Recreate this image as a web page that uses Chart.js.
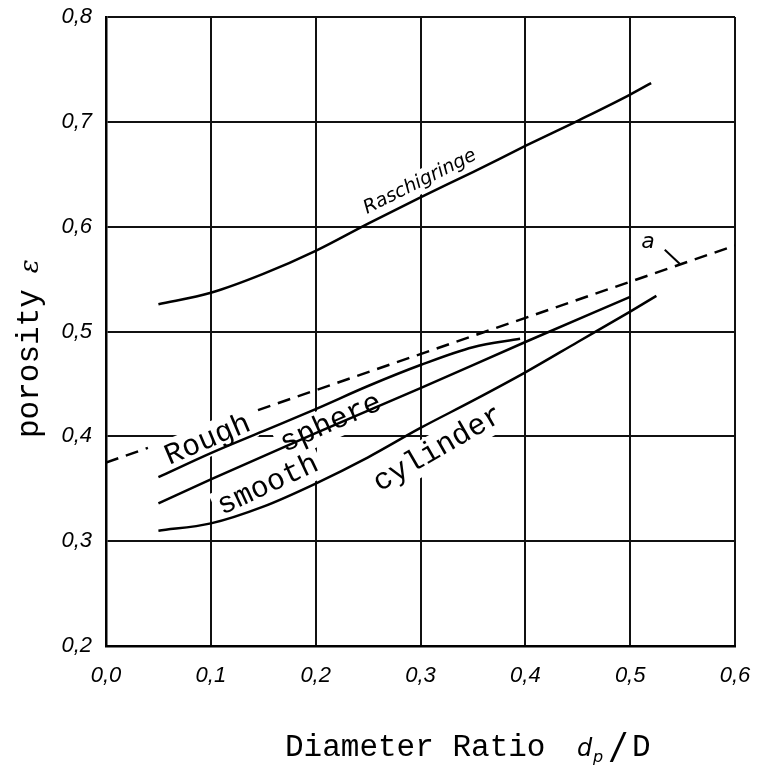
<!DOCTYPE html>
<html><head><meta charset="utf-8">
<script src="https://cdn.jsdelivr.net/npm/chart.js@4.4.0/dist/chart.umd.min.js"></script>
<style>html,body{margin:0;padding:0;background:#fff;} canvas{display:block;}</style>
</head><body>
<canvas id="c" width="758" height="769"></canvas>
<script>
// ---- data ----
const xTickLabels = ['0,0','0,1','0,2','0,3','0,4','0,5','0,6'];
const yTickLabels = ['0,2','0,3','0,4','0,5','0,6','0,7','0,8'];

const raschigX = [0.05, 0.10, 0.15, 0.20, 0.25, 0.30, 0.35, 0.40, 0.45, 0.50, 0.52];
const raschigY = [0.526, 0.537, 0.555, 0.577, 0.603, 0.628, 0.652, 0.677, 0.701, 0.726, 0.737];

const roughX = [0.05, 0.10, 0.15, 0.20, 0.25, 0.30, 0.35, 0.395];
const roughY = [0.361, 0.384, 0.405, 0.426, 0.448, 0.468, 0.485, 0.493];

const smoothX = [0.05, 0.10, 0.20, 0.30, 0.40, 0.50];
const smoothY = [0.336, 0.359, 0.403, 0.446, 0.490, 0.533];

const cylX = [0.05, 0.10, 0.15, 0.20, 0.25, 0.30, 0.35, 0.40, 0.45, 0.50, 0.525];
const cylY = [0.310, 0.317, 0.333, 0.355, 0.380, 0.408, 0.434, 0.461, 0.490, 0.519, 0.534];

// dashed line "a" (interrupted where the word "Rough" is written)
const aX = [0.0, 0.04, 0.09, 0.145, 0.6];
const aY = [0.375, 0.389, null, 0.425, 0.582];

// leader line from label "a" to the dashed line
const leaderX = [0.533, 0.548];
const leaderY = [0.578, 0.564];

// in-plot annotations (text, anchor in data units)
const annoText = ['Raschigringe', 'Rough', 'sphere', 'smooth', 'cylinder', 'a'];
const annoX    = [0.2995, 0.097, 0.2146, 0.1545, 0.3167, 0.517];
const annoY    = [0.6426, 0.3965, 0.4127, 0.3536, 0.388, 0.585];

// ---- styles ----
const annoStyle = [
  {angle:-26.5, font:'italic 19px "DejaVu Sans"', bg:true},
  {angle:-23, font:'30px "Liberation Mono"', bg:true},
  {angle:-24, font:'30px "Liberation Mono"', bg:true},
  {angle:-25, font:'30px "Liberation Mono"', bg:true},
  {angle:-30, font:'30px "Liberation Mono"', bg:true},
  {angle:0, font:'italic 22px "DejaVu Sans"', bg:false}
];

const pts = (xs, ys) => xs.map((x, i) => ({x: x, y: ys[i]}));
const solid = {borderColor:'#000', borderWidth:2.5, pointRadius:0, fill:false, cubicInterpolationMode:'monotone'};

const whiteBg = {
  id:'whiteBg',
  beforeDraw(chart){
    const c = chart.ctx; c.save(); c.fillStyle = '#fff';
    c.fillRect(0,0,chart.width,chart.height); c.restore();
  }
};

const annotations = {
  id:'annotations',
  beforeDatasetsDraw(chart){
    const c = chart.ctx, xs = chart.scales.x, ys = chart.scales.y;
    annoText.forEach((t, i) => {
      const st = annoStyle[i];
      if (!st.bg) return;
      c.save();
      c.font = st.font;
      const w = c.measureText(t).width;
      c.translate(xs.getPixelForValue(annoX[i]), ys.getPixelForValue(annoY[i]));
      c.rotate(st.angle * Math.PI / 180);
      c.fillStyle = '#fff';
      const h = parseFloat(st.font.match(/(\d+)px/)[1]);
      c.fillRect(-w/2 - 4, -h*0.45 - 3, w + 8, h*0.9 + 6);
      c.restore();
    });
  },
  afterDatasetsDraw(chart){
    const c = chart.ctx, xs = chart.scales.x, ys = chart.scales.y;
    annoText.forEach((t, i) => {
      const st = annoStyle[i];
      c.save();
      c.font = st.font;
      c.fillStyle = '#000';
      c.textAlign = 'center';
      c.textBaseline = 'middle';
      c.translate(xs.getPixelForValue(annoX[i]), ys.getPixelForValue(annoY[i]));
      c.rotate(st.angle * Math.PI / 180);
      c.fillText(t, 0, 0);
      c.restore();
    });
  },
  afterDraw(chart){
    const c = chart.ctx;
    c.save();
    c.fillStyle = '#000';
    // x axis title
    c.textBaseline = 'alphabetic';
    c.textAlign = 'left';
    c.font = '31px "Liberation Mono"';
    c.fillText('Diameter Ratio', 285, 756);
    c.font = 'italic 24px "DejaVu Sans"';
    c.fillText('d', 577, 756);
    c.font = 'italic 16px "DejaVu Sans"';
    c.fillText('p', 593, 762);
    c.font = 'italic 40px "Liberation Sans"';
    c.fillText('/', 612, 762);
    c.font = '31px "Liberation Mono"';
    c.fillText('D', 632, 756);
    // y axis title
    c.translate(38, 438);
    c.rotate(-Math.PI / 2);
    c.font = '31px "Liberation Mono"';
    c.fillText('porosity', 0, 0);
    const w = c.measureText('porosity').width;
    c.font = 'italic 26px "DejaVu Serif"';
    c.fillText('\u03b5', w + 16, 0);
    c.restore();
  }
};

const noPad = s => { s.paddingLeft = 0; s.paddingRight = 0; s.paddingTop = 0; s.paddingBottom = 0; };

new Chart(document.getElementById('c'), {
  type: 'line',
  data: {
    datasets: [
      Object.assign({label: 'Raschigringe', data: pts(raschigX, raschigY)}, solid),
      Object.assign({label: 'Rough sphere', data: pts(roughX, roughY)}, solid),
      Object.assign({label: 'smooth sphere', data: pts(smoothX, smoothY)}, solid),
      Object.assign({label: 'cylinder', data: pts(cylX, cylY)}, solid),
      {label: 'a', data: pts(aX, aY), borderColor:'#000', borderWidth:2.5, borderDash:[13,8], pointRadius:0, fill:false, tension:0, spanGaps:false},
      {label: 'a-leader', data: pts(leaderX, leaderY), borderColor:'#000', borderWidth:2, pointRadius:0, fill:false, tension:0}
    ]
  },
  options: {
    responsive: false,
    animation: false,
    devicePixelRatio: 1,
    layout: {padding: {top: 17, right: 23, left: 0, bottom: 0}},
    plugins: {legend: {display: false}, tooltip: {enabled: false}},
    scales: {
      x: {
        type: 'linear', min: 0, max: 0.6,
        afterFit: s => { s.height = 123; noPad(s); },
        ticks: {stepSize: 0.1, padding: 17, color: '#000',
          font: {family: '"Liberation Sans"', size: 22, style: 'italic'},
          callback: (v, i) => xTickLabels[i]},
        grid: {color: '#111', lineWidth: 2, drawTicks: false},
        border: {color: '#000', width: 2.5}
      },
      y: {
        type: 'linear', min: 0.2, max: 0.8,
        afterFit: s => { s.width = 106; noPad(s); },
        ticks: {stepSize: 0.1, padding: 14, color: '#000',
          font: {family: '"Liberation Sans"', size: 22, style: 'italic'},
          callback: (v, i) => yTickLabels[i]},
        grid: {color: '#111', lineWidth: 2, drawTicks: false},
        border: {color: '#000', width: 2.5}
      }
    }
  },
  plugins: [whiteBg, annotations]
});
</script>
</body></html>
